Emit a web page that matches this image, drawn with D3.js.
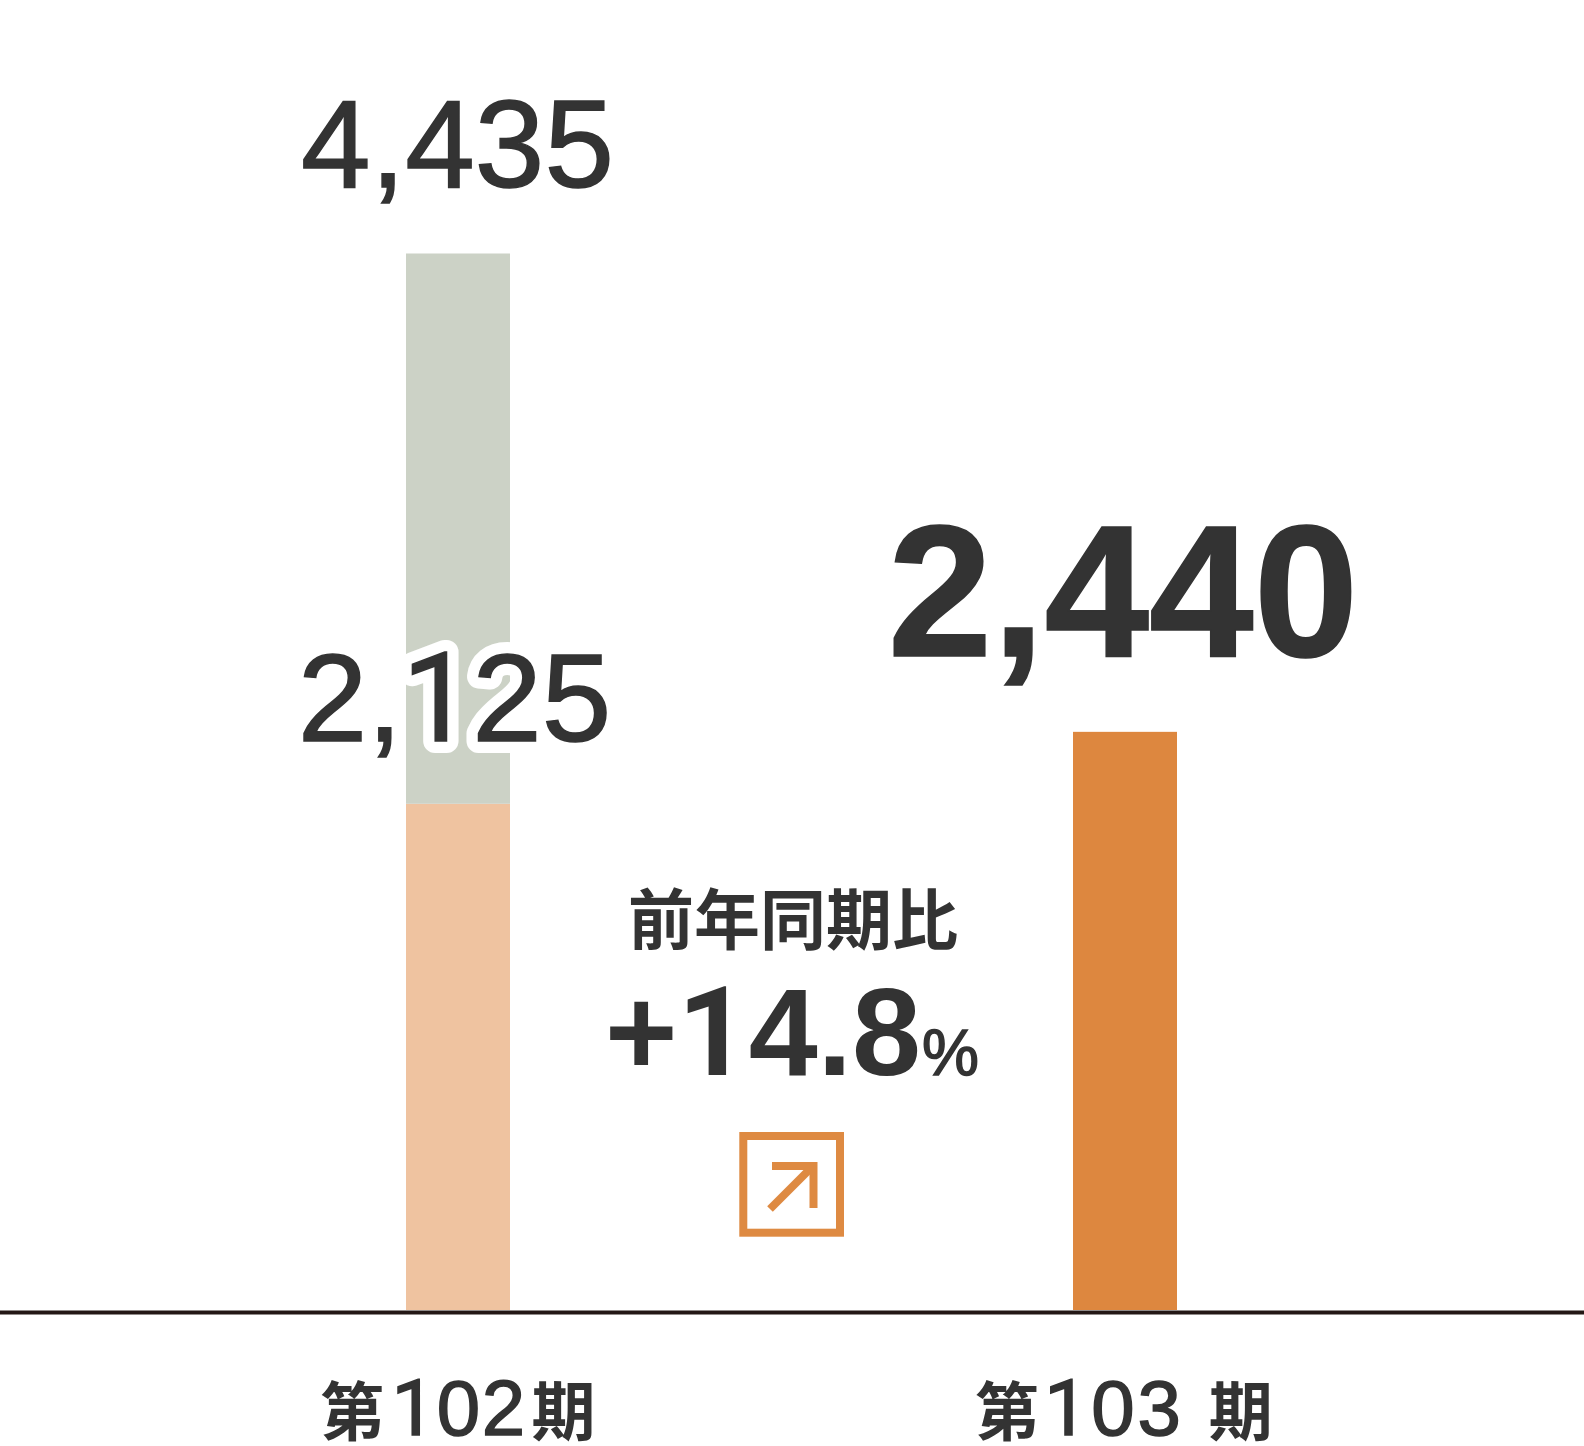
<!DOCTYPE html>
<html><head><meta charset="utf-8">
<style>html,body{margin:0;padding:0;background:#fff}svg{display:block}</style>
<script src="https://d3js.org/d3.v7.min.js"></script></head>
<body><svg id="c" width="1584" height="1446"></svg>
<script>
const periods = ["第102期", "第103期"];
const lowerValues = [2125, 2427];
const upperValues = [2310, 0];
const totalLabels = ["4,435", "2,440"];
const lowerLabel = "2,125";
const changeTitle = "前年同期比";
const changeValue = "+14.8";
const changeUnit = "%";
const INK = "#333333", FONT = "'Liberation Sans',Arial,sans-serif", CJK = "'Noto Sans CJK JP',sans-serif", ONE = "Roboto,sans-serif";

const svg = d3.select("#c");
const x = d3.scaleBand().domain(periods).range([406, 1177]).paddingInner(0.8441).paddingOuter(0);
const y = d3.scaleLinear().domain([0, 4435]).range([1310, 253.5]);

const lowerColors = ["#efc3a0", "#dd873f"];
svg.selectAll("rect.low").data(periods).join("rect").attr("class", "low")
  .attr("x", d => x(d)).attr("width", x.bandwidth())
  .attr("y", (d, i) => y(lowerValues[i])).attr("height", (d, i) => y(0) - y(lowerValues[i]))
  .attr("fill", (d, i) => lowerColors[i]);
svg.selectAll("rect.up").data(periods.slice(0, 1)).join("rect").attr("class", "up")
  .attr("x", d => x(d)).attr("width", x.bandwidth())
  .attr("y", (d, i) => y(lowerValues[i] + upperValues[i])).attr("height", (d, i) => y(lowerValues[i]) - y(lowerValues[i] + upperValues[i]))
  .attr("fill", "#ccd2c6");

svg.append("line").attr("x1", 0).attr("x2", 1584).attr("y1", 1312.5).attr("y2", 1312.5).attr("stroke", "#231815").attr("stroke-width", 4);

// Digit text whose "1" uses a footless face, as in the reference.
const addDigits = (t, str, weight) => {
  str.split(/(1)/).filter(s => s).forEach(s => {
    t.append("tspan").text(s).attr("font-family", s === "1" ? ONE : FONT).attr("font-weight", weight);
  });
  return t;
};
const digits = (str, xp, yp, size, weight, sw) => addDigits(
  svg.append("text").attr("x", xp).attr("y", yp).attr("text-anchor", "middle")
    .attr("font-size", size).attr("fill", INK).attr("stroke", INK).attr("stroke-width", sw), str, weight);

digits(totalLabels[0], 457.5, 186.5, 125, 400, 1.5);
digits(lowerLabel, 454.5, 741, 125, 400, 24).attr("stroke", "#fff").attr("stroke-linejoin", "round").attr("fill", "#fff");
digits(lowerLabel, 454.5, 741, 125, 400, 1.5);
digits(totalLabels[1], 1123, 656, 188, 700, 1.5);

svg.append("text").text(changeTitle).attr("x", 793).attr("y", 944).attr("text-anchor", "middle")
  .attr("font-family", CJK).attr("font-size", 66).attr("font-weight", 700).attr("fill", INK);

const ch = svg.append("text").attr("x", 792).attr("y", 1075).attr("text-anchor", "middle").attr("fill", INK);
const val = ch.append("tspan").attr("font-size", 124);
addDigits(val, changeValue, 700);
ch.append("tspan").attr("font-size", 64).attr("font-family", FONT).attr("dx", 1).attr("font-weight", 400).attr("stroke", INK).attr("stroke-width", 1.5).text(changeUnit);

const orange = "#de8a42";
svg.append("rect").attr("x", 743.3).attr("y", 1136).attr("width", 96.7).attr("height", 96.7).attr("fill", "none").attr("stroke", orange).attr("stroke-width", 8);
svg.append("path").attr("d", d3.line()([[772, 1166], [813.5, 1166], [813.5, 1208]])).attr("fill", "none").attr("stroke", orange).attr("stroke-width", 8);
svg.append("path").attr("d", d3.line()([[770, 1209], [813, 1166]])).attr("fill", "none").attr("stroke", orange).attr("stroke-width", 8);

const axisLabel = (parts, xp, gapA, gapB, spacing) => {
  const t = svg.append("text").attr("x", xp).attr("y", 1435).attr("text-anchor", "middle").attr("fill", INK).attr("xml:space", "preserve");
  t.append("tspan").text(parts[0]).attr("font-family", CJK).attr("font-size", 64).attr("font-weight", 700);
  const mid = t.append("tspan").attr("font-size", 78).attr("dx", gapA).attr("stroke", INK).attr("stroke-width", 1.5).attr("letter-spacing", spacing);
  addDigits(mid, parts[1], 400);
  t.append("tspan").text(parts[2]).attr("font-family", CJK).attr("font-size", 64).attr("font-weight", 700).attr("dx", gapB);
};
axisLabel(["第", "102", "期"], 458, 7, 5, 1.5);
axisLabel(["第", "103 ", "期"], 1124, 5, 0, 3);
</script></body></html>
